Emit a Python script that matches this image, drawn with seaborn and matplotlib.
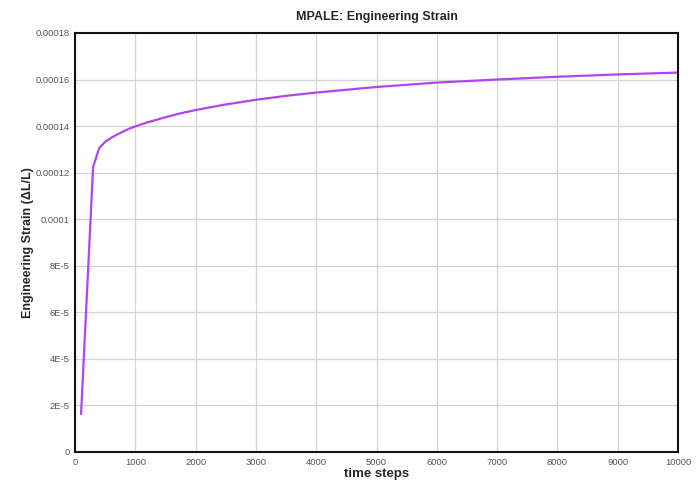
import matplotlib
matplotlib.use("Agg")
import matplotlib.pyplot as plt
import seaborn as sns
import pandas as pd

# Engineering strain history
time_steps = [100, 300, 400, 500, 600, 700, 800, 900, 1000, 1200, 1500, 1750,
              2000, 2500, 3000, 3500, 4000, 5000, 6000, 7000, 8000, 9000, 10000]
strain = [1.63e-5, 1.225e-4, 1.305e-4, 1.333e-4, 1.350e-4, 1.364e-4, 1.377e-4,
          1.389e-4, 1.399e-4, 1.416e-4, 1.438e-4, 1.455e-4, 1.469e-4, 1.493e-4,
          1.513e-4, 1.530e-4, 1.544e-4, 1.568e-4, 1.587e-4, 1.600e-4, 1.612e-4,
          1.622e-4, 1.630e-4]

x_ticks = [0, 1000, 2000, 3000, 4000, 5000, 6000, 7000, 8000, 9000, 10000]
y_ticks = [0, 2e-5, 4e-5, 6e-5, 8e-5, 1e-4, 1.2e-4, 1.4e-4, 1.6e-4, 1.8e-4]
y_tick_labels = ["0", "2E-5", "4E-5", "6E-5", "8E-5", "0.0001", "0.00012",
                 "0.00014", "0.00016", "0.00018"]

sns.set_style("whitegrid")
plt.rcParams["font.family"] = ["Liberation Sans", "DejaVu Sans"]

df = pd.DataFrame({"time steps": time_steps, "strain": strain})

fig = plt.figure(figsize=(6.98, 4.83), dpi=100)
ax = fig.add_axes([0.1075, 0.0642, 0.8638, 0.8675])

sns.lineplot(data=df, x="time steps", y="strain", ax=ax,
             color="#b044f5", linewidth=1.6)

ax.set_xlim(0, 10000)
ax.set_ylim(0, 1.8e-4)
ax.set_xticks(x_ticks)
ax.set_xticklabels([str(t) for t in x_ticks])
ax.set_yticks(y_ticks)
ax.set_yticklabels(y_tick_labels)
ax.tick_params(axis="both", labelsize=6.8, labelcolor="#555555", length=0, pad=4)

ax.grid(True, color="#d4d4d4", linewidth=0.9)
for side in ["left", "bottom", "top", "right"]:
    ax.spines[side].set_color("#111111")
    ax.spines[side].set_linewidth(1.5)

ax.set_xlabel("time steps", fontsize=9.5, fontweight="bold", labelpad=1)
ax.set_ylabel("Engineering Strain (\u0394L/L)", fontsize=9, fontweight="bold", labelpad=1)
ax.set_title("MPALE: Engineering Strain", fontsize=9, fontweight="bold", pad=9)

fig.savefig("out.png", dpi=100)
